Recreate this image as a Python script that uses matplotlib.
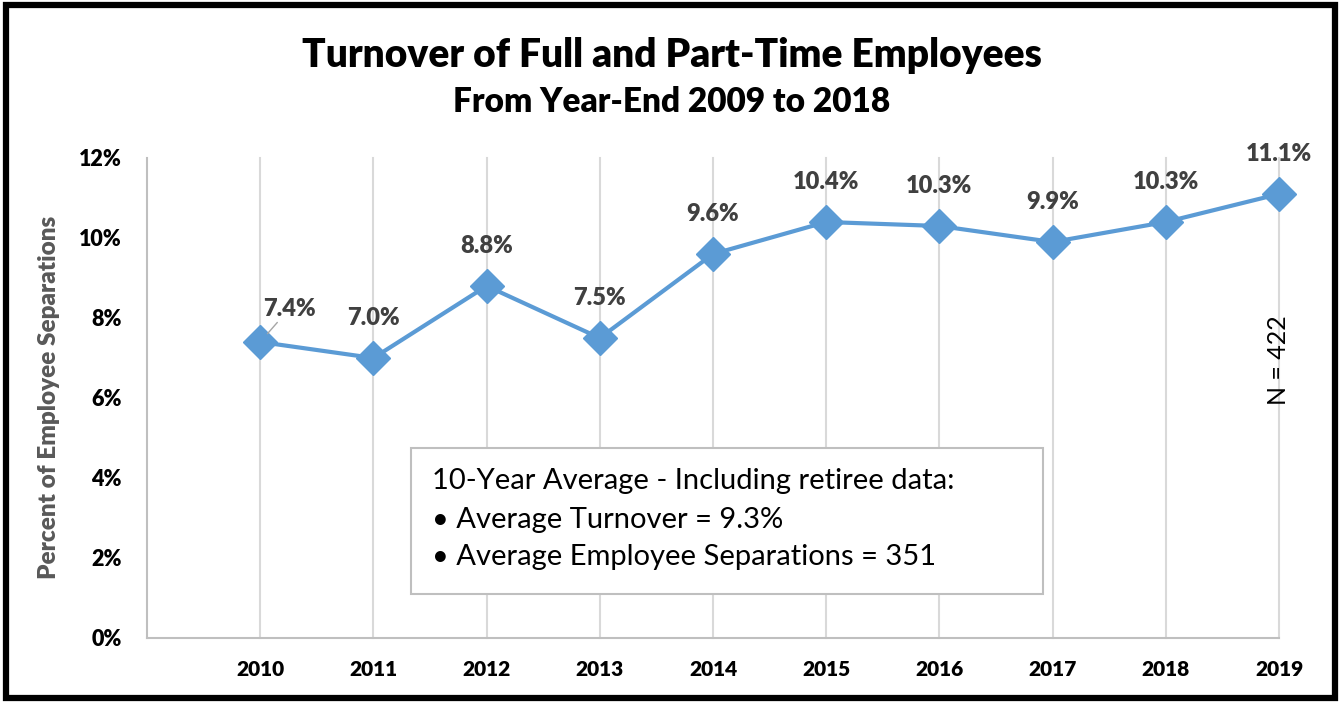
import matplotlib
matplotlib.use("Agg")
import matplotlib.pyplot as plt
from matplotlib.patches import Rectangle

years = ["2010", "2011", "2012", "2013", "2014", "2015", "2016", "2017", "2018", "2019"]
turnover = [7.4, 7.0, 8.8, 7.5, 9.6, 10.4, 10.3, 9.9, 10.4, 11.1]
point_labels = ["7.4%", "7.0%", "8.8%", "7.5%", "9.6%", "10.4%", "10.3%", "9.9%", "10.3%", "11.1%"]
yticks = [0, 2, 4, 6, 8, 10, 12]
ytick_labels = ["0%", "2%", "4%", "6%", "8%", "10%", "12%"]

FONT = ["Lato", "DejaVu Sans"]
plt.rcParams["font.family"] = FONT
BOLD = "heavy"

W, H = 1341, 702
fig = plt.figure(figsize=(W / 100, H / 100), dpi=100)

# outer black frame
fig.patches.append(Rectangle((6 / W, 4 / H), (W - 12) / W, (H - 9) / H, transform=fig.transFigure,
                             fill=False, edgecolor="black", linewidth=4.5))

ax = fig.add_axes([147 / W, 1 - 638 / H, (1279 - 147) / W, (638 - 158) / H])
x = list(range(len(years)))
ax.set_xlim(-1, len(years) - 1)
ax.set_ylim(0, 12)

for xi in x:
    ax.axvline(xi, color="#D9D9D9", linewidth=1.5, zorder=0, clip_on=False)

for side in ["top", "right"]:
    ax.spines[side].set_visible(False)
ax.spines["left"].set_color("#BFBFBF")
ax.spines["bottom"].set_color("#BFBFBF")
ax.spines["left"].set_linewidth(1.5)
ax.spines["bottom"].set_linewidth(1.5)

ax.set_yticks(yticks)
ax.set_yticklabels(ytick_labels, fontsize=15.5, fontweight=BOLD, color="black")
ax.set_xticks(x)
ax.set_xticklabels(years, fontsize=15, fontweight=BOLD, color="black")
ax.tick_params(axis="both", length=0)
ax.tick_params(axis="y", pad=18)
ax.tick_params(axis="x", pad=16)

ax.plot(x, turnover, color="#5B9BD5", linewidth=3, marker="D", markersize=17, zorder=3, clip_on=False)

for i, (v, lab) in enumerate(zip(turnover, point_labels)):
    if i == 0:
        ax.annotate(lab, xy=(i, v), xytext=(21, 24), textcoords="offset points",
                    ha="center", va="center", fontsize=17, fontweight=BOLD, color="#404040",
                    arrowprops=dict(arrowstyle="-", color="#A6A6A6", linewidth=1,
                                    shrinkA=0, shrinkB=8))
    else:
        ax.annotate(lab, xy=(i, v), xytext=(0, 29), textcoords="offset points",
                    ha="center", va="center", fontsize=17, fontweight=BOLD, color="#404040")

ax.set_ylabel("Percent of Employee Separations", fontsize=17.5, fontweight=BOLD, color="#595959")
ax.yaxis.set_label_coords((60 - 147) / (1279 - 147), (638 - 397) / (638 - 158))

# N annotation
ax.text(len(years) - 1, 6.95, "N = 422", rotation=90, ha="center", va="center",
        fontsize=18, color="black")

# info box
bx0, bx1 = 411, 1043
by0, by1 = 448, 594
fig.patches.append(Rectangle((bx0 / W, 1 - by1 / H), (bx1 - bx0) / W, (by1 - by0) / H,
                             transform=fig.transFigure, facecolor="white",
                             edgecolor="#BFBFBF", linewidth=1.5, zorder=5))
box_lines = ["10-Year Average - Including retiree data:",
             "\u2022 Average Turnover = 9.3%",
             "\u2022 Average Employee Separations = 351"]
for yy, line in zip([481, 520, 557], box_lines):
    fig.text(432 / W, 1 - yy / H, line, ha="left", va="center", fontsize=21, color="black", zorder=6)

fig.text(672 / W, 1 - 56 / H, "Turnover of Full and Part-Time Employees", ha="center", va="center",
         fontsize=28, fontweight=BOLD, color="black")
fig.text(672 / W, 1 - 102 / H, "From Year-End 2009 to 2018", ha="center", va="center",
         fontsize=24, fontweight=BOLD, color="black")

fig.savefig("out.png", dpi=100)
